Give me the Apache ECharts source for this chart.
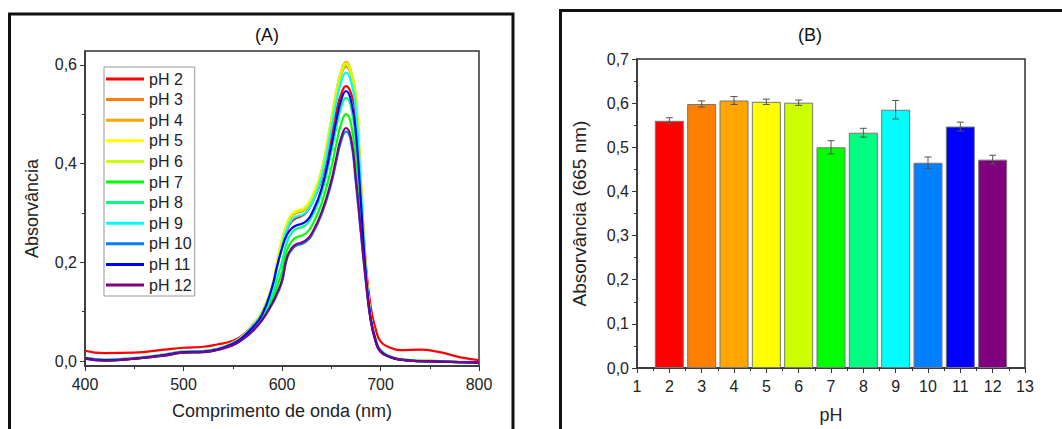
<!DOCTYPE html>
<html>
<head>
<meta charset="utf-8">
<script src="https://cdn.jsdelivr.net/npm/echarts@6/dist/echarts.min.js"></script>
<style>
  html, body { margin: 0; padding: 0; background: #fff; }
  #chart { width: 1062px; height: 429px; }
</style>
</head>
<body>
<div id="chart"></div>
<script>
// ---- Data --------------------------------------------------------------
// Wavelength grid (nm) shared by all UV-Vis spectra
const wavelengths = [400, 420, 450, 480, 500, 520, 535, 550, 560, 570, 580, 590, 595, 600, 605, 610, 615, 620, 625, 630, 640, 650, 655, 660, 665, 670, 675, 680, 685, 690, 695, 700, 710, 720, 740, 760, 780, 800];

// Absorbance spectra for each pH
const absPH2  = [0.021, 0.016, 0.017, 0.023, 0.027, 0.029, 0.034, 0.041, 0.052, 0.073, 0.100, 0.150, 0.192, 0.232, 0.265, 0.283, 0.290, 0.294, 0.302, 0.318, 0.367, 0.455, 0.505, 0.540, 0.557, 0.543, 0.495, 0.355, 0.200, 0.110, 0.066, 0.040, 0.027, 0.022, 0.023, 0.018, 0.008, 0.002];
const absPH3  = [0.007, 0.003, 0.006, 0.013, 0.019, 0.020, 0.025, 0.037, 0.050, 0.071, 0.099, 0.150, 0.196, 0.240, 0.274, 0.293, 0.300, 0.303, 0.310, 0.326, 0.380, 0.483, 0.537, 0.579, 0.597, 0.580, 0.525, 0.364, 0.189, 0.090, 0.045, 0.022, 0.009, 0.004, 0.001, 0.000, -0.002, -0.003];
const absPH4  = [0.007, 0.003, 0.006, 0.013, 0.019, 0.020, 0.025, 0.037, 0.050, 0.072, 0.100, 0.152, 0.200, 0.245, 0.278, 0.297, 0.304, 0.307, 0.314, 0.330, 0.385, 0.490, 0.545, 0.587, 0.606, 0.588, 0.535, 0.370, 0.190, 0.090, 0.045, 0.022, 0.009, 0.004, 0.001, 0.000, -0.002, -0.003];
const absPH5  = [0.007, 0.003, 0.006, 0.013, 0.019, 0.020, 0.025, 0.037, 0.050, 0.072, 0.101, 0.153, 0.201, 0.246, 0.279, 0.298, 0.305, 0.308, 0.315, 0.331, 0.384, 0.488, 0.542, 0.584, 0.603, 0.585, 0.532, 0.368, 0.190, 0.090, 0.045, 0.022, 0.009, 0.004, 0.001, 0.000, -0.002, -0.003];
const absPH6  = [0.007, 0.003, 0.006, 0.013, 0.019, 0.020, 0.025, 0.037, 0.050, 0.071, 0.100, 0.151, 0.198, 0.243, 0.276, 0.295, 0.302, 0.305, 0.312, 0.328, 0.382, 0.486, 0.541, 0.583, 0.601, 0.584, 0.530, 0.367, 0.189, 0.090, 0.045, 0.022, 0.009, 0.004, 0.001, 0.000, -0.002, -0.003];
const absPH7  = [0.006, 0.002, 0.005, 0.012, 0.018, 0.019, 0.024, 0.033, 0.045, 0.063, 0.087, 0.124, 0.151, 0.181, 0.224, 0.243, 0.251, 0.254, 0.260, 0.273, 0.318, 0.391, 0.438, 0.480, 0.500, 0.481, 0.403, 0.287, 0.170, 0.084, 0.041, 0.020, 0.008, 0.003, 0.000, -0.001, -0.002, -0.003];
const absPH8  = [0.006, 0.002, 0.005, 0.012, 0.018, 0.019, 0.024, 0.034, 0.047, 0.066, 0.091, 0.133, 0.167, 0.201, 0.241, 0.260, 0.268, 0.271, 0.277, 0.291, 0.339, 0.423, 0.472, 0.514, 0.533, 0.515, 0.445, 0.313, 0.177, 0.086, 0.042, 0.020, 0.008, 0.003, 0.000, -0.001, -0.002, -0.003];
const absPH9  = [0.007, 0.003, 0.006, 0.013, 0.019, 0.020, 0.025, 0.036, 0.049, 0.070, 0.097, 0.146, 0.190, 0.232, 0.267, 0.286, 0.293, 0.296, 0.303, 0.318, 0.371, 0.470, 0.523, 0.565, 0.584, 0.566, 0.508, 0.353, 0.186, 0.089, 0.044, 0.022, 0.009, 0.004, 0.001, 0.000, -0.002, -0.003];
const absPH10 = [0.005, 0.001, 0.005, 0.011, 0.017, 0.018, 0.023, 0.032, 0.044, 0.060, 0.083, 0.115, 0.135, 0.160, 0.207, 0.226, 0.234, 0.237, 0.243, 0.254, 0.296, 0.359, 0.403, 0.445, 0.465, 0.445, 0.360, 0.260, 0.164, 0.083, 0.040, 0.019, 0.008, 0.003, 0.000, -0.001, -0.002, -0.003];
const absPH11 = [0.006, 0.002, 0.005, 0.012, 0.018, 0.019, 0.024, 0.035, 0.048, 0.068, 0.095, 0.150, 0.192, 0.228, 0.256, 0.269, 0.275, 0.278, 0.284, 0.298, 0.348, 0.435, 0.486, 0.528, 0.547, 0.528, 0.462, 0.324, 0.179, 0.087, 0.043, 0.021, 0.008, 0.003, 0.000, -0.001, -0.002, -0.003];
const absPH12 = [0.005, 0.001, 0.005, 0.011, 0.017, 0.018, 0.023, 0.032, 0.044, 0.061, 0.084, 0.117, 0.138, 0.164, 0.210, 0.229, 0.237, 0.240, 0.246, 0.258, 0.300, 0.365, 0.410, 0.452, 0.472, 0.452, 0.368, 0.265, 0.165, 0.083, 0.040, 0.019, 0.008, 0.003, 0.000, -0.001, -0.002, -0.003];
const spectra = [absPH2, absPH3, absPH4, absPH5, absPH6, absPH7, absPH8, absPH9, absPH10, absPH11, absPH12];

// pH values, legend labels, absorbance at 665 nm and its error
const phValues = [2, 3, 4, 5, 6, 7, 8, 9, 10, 11, 12];
const phLabels = ['pH 2', 'pH 3', 'pH 4', 'pH 5', 'pH 6', 'pH 7', 'pH 8', 'pH 9', 'pH 10', 'pH 11', 'pH 12'];
const abs665    = [0.560, 0.598, 0.606, 0.603, 0.601, 0.500, 0.533, 0.585, 0.465, 0.547, 0.472];
const abs665Err = [0.007, 0.007, 0.009, 0.006, 0.006, 0.015, 0.010, 0.021, 0.013, 0.010, 0.010];

// Tick values
const specYLabels = [0, 0.2, 0.4, 0.6];
const specYMinor  = [0.1, 0.3, 0.5];

// ---- Styles ------------------------------------------------------------
const phColors = ['#ff0000', '#ff8000', '#ffa500', '#ffff00', '#ccff00', '#00ff00', '#00ff80', '#00ffff', '#0080ff', '#0000ff', '#800080'];
const FONT = '"Liberation Sans", Arial, sans-serif';
const AXIS_COLOR = '#333';
const comma = v => v.toFixed(1).replace('.', ',');

const axisLineStyle = { show: true, onZero: false, lineStyle: { color: AXIS_COLOR, width: 1.5 } };
const labelStyle = { fontSize: 16, color: '#222', fontFamily: FONT };
const nameStyle = { fontSize: 18, color: '#222', fontFamily: FONT };

const chart = echarts.init(document.getElementById('chart'), null, { renderer: 'svg' });

const lineSeries = spectra.map((arr, i) => ({
  type: 'line',
  name: phLabels[i],
  xAxisIndex: 0,
  yAxisIndex: 0,
  data: wavelengths.map((w, k) => [w, arr[k]]),
  smooth: 0.5,
  symbol: 'none',
  lineStyle: { width: 2.2, color: phColors[i] },
  itemStyle: { color: phColors[i] },
  emphasis: { disabled: true },
  z: 3 + i
}));

const option = {
  animation: false,
  backgroundColor: '#fff',
  textStyle: { fontFamily: FONT },
  grid: [
    { left: 85, top: 51, width: 394, height: 315, show: true, borderColor: AXIS_COLOR, borderWidth: 1.5, backgroundColor: 'transparent' },
    { left: 637, top: 59, width: 388, height: 310, show: true, borderColor: AXIS_COLOR, borderWidth: 1.5, backgroundColor: 'transparent' }
  ],
  legend: {
    data: phLabels,
    orient: 'vertical',
    left: 104,
    top: 67,
    icon: 'rect',
    itemWidth: 38,
    itemHeight: 3,
    itemGap: 4.6,
    padding: [4, 3, 3, 2],
    backgroundColor: '#fff',
    borderColor: '#999',
    borderWidth: 1,
    borderRadius: 0,
    selectedMode: false,
    textStyle: { fontSize: 16, color: '#222', fontFamily: FONT, lineHeight: 16 }
  },
  xAxis: [
    {
      gridIndex: 0, type: 'value', min: 400, max: 800, interval: 100,
      axisLine: axisLineStyle,
      axisTick: { show: true, length: 5, lineStyle: { color: AXIS_COLOR } },
      minorTick: { show: true, splitNumber: 2, length: 3, lineStyle: { color: AXIS_COLOR } },
      axisLabel: Object.assign({ margin: 10 }, labelStyle),
      splitLine: { show: false },
      name: 'Comprimento de onda (nm)', nameLocation: 'middle', nameGap: 36, nameTextStyle: nameStyle
    },
    {
      gridIndex: 1, type: 'value', min: 1, max: 13, interval: 1,
      axisLine: axisLineStyle,
      axisTick: { show: true, length: 5, lineStyle: { color: AXIS_COLOR } },
      minorTick: { show: true, splitNumber: 2, length: 3, lineStyle: { color: AXIS_COLOR } },
      axisLabel: Object.assign({ margin: 10 }, labelStyle),
      splitLine: { show: false },
      name: 'pH', nameLocation: 'middle', nameGap: 38, nameTextStyle: nameStyle
    }
  ],
  yAxis: [
    {
      gridIndex: 0, type: 'value', position: 'left', min: -0.01, max: 0.628,
      axisLine: axisLineStyle,
      axisTick: { show: true, length: 5, customValues: specYLabels, lineStyle: { color: AXIS_COLOR } },
      axisLabel: Object.assign({ margin: 8, customValues: specYLabels, formatter: comma }, labelStyle),
      splitLine: { show: false },
      name: 'Absorvância', nameLocation: 'middle', nameGap: 44, nameTextStyle: nameStyle
    },
    {
      gridIndex: 0, type: 'value', position: 'left', offset: 0, min: -0.01, max: 0.628,
      axisLine: { show: false },
      axisTick: { show: true, length: 3, customValues: specYMinor, lineStyle: { color: AXIS_COLOR } },
      axisLabel: { show: false },
      splitLine: { show: false }
    },
    {
      gridIndex: 1, type: 'value', position: 'left', min: 0, max: 0.7, interval: 0.1,
      axisLine: axisLineStyle,
      axisTick: { show: true, length: 5, lineStyle: { color: AXIS_COLOR } },
      minorTick: { show: true, splitNumber: 2, length: 3, lineStyle: { color: AXIS_COLOR } },
      axisLabel: Object.assign({ margin: 8, formatter: comma }, labelStyle),
      splitLine: { show: false },
      name: 'Absorvância (665 nm)', nameLocation: 'middle', nameGap: 48, nameTextStyle: Object.assign({}, nameStyle, { fontSize: 19 })
    }
  ],
  graphic: [
    { type: 'rect', shape: { x: 9.5, y: 14, width: 503.5, height: 440 }, style: { fill: 'none', stroke: '#111', lineWidth: 3 }, silent: true },
    { type: 'rect', shape: { x: 560.5, y: 10.5, width: 540, height: 440 }, style: { fill: 'none', stroke: '#111', lineWidth: 3 }, silent: true },
    { type: 'text', x: 267, y: 35, style: { text: '(A)', fontSize: 18, fontFamily: FONT, fill: '#111', align: 'center', verticalAlign: 'middle', textAlign: 'center', textVerticalAlign: 'middle' }, silent: true },
    { type: 'text', x: 810, y: 35, style: { text: '(B)', fontSize: 18, fontFamily: FONT, fill: '#111', align: 'center', verticalAlign: 'middle', textAlign: 'center', textVerticalAlign: 'middle' }, silent: true }
  ],
  series: lineSeries.concat([
    {
      type: 'bar',
      xAxisIndex: 1,
      yAxisIndex: 2,
      barWidth: 29,
      data: phValues.map((p, i) => ({ value: [p, abs665[i]], itemStyle: { color: phColors[i] } })),
      itemStyle: { borderColor: '#777', borderWidth: 1 },
      emphasis: { disabled: true },
      z: 2
    },
    {
      type: 'custom',
      xAxisIndex: 1,
      yAxisIndex: 2,
      data: phValues.map((p, i) => [p, abs665[i] - abs665Err[i], abs665[i] + abs665Err[i]]),
      encode: { x: 0, y: [1, 2] },
      z: 5,
      renderItem: function (params, api) {
        const x = api.value(0);
        const lo = api.coord([x, api.value(1)]);
        const hi = api.coord([x, api.value(2)]);
        const cap = 3.5;
        const st = { stroke: '#555', lineWidth: 1 };
        return {
          type: 'group',
          children: [
            { type: 'line', shape: { x1: lo[0], y1: lo[1], x2: hi[0], y2: hi[1] }, style: st },
            { type: 'line', shape: { x1: lo[0] - cap, y1: lo[1], x2: lo[0] + cap, y2: lo[1] }, style: st },
            { type: 'line', shape: { x1: hi[0] - cap, y1: hi[1], x2: hi[0] + cap, y2: hi[1] }, style: st }
          ]
        };
      }
    }
  ])
};

chart.setOption(option);
</script>
</body>
</html>
